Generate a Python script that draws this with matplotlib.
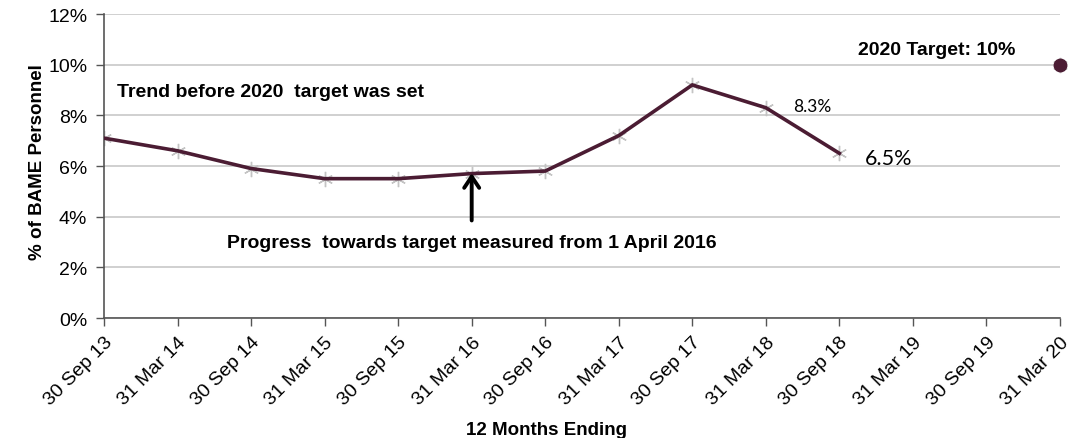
import matplotlib
matplotlib.use("Agg")
import matplotlib.pyplot as plt
import numpy as np

categories = ["30 Sep 13", "31 Mar 14", "30 Sep 14", "31 Mar 15", "30 Sep 15",
              "31 Mar 16", "30 Sep 16", "31 Mar 17", "30 Sep 17", "31 Mar 18",
              "30 Sep 18", "31 Mar 19", "30 Sep 19", "31 Mar 20"]
actual = [7.1, 6.6, 5.9, 5.5, 5.5, 5.7, 5.8, 7.2, 9.2, 8.3, 6.5]
target_value = 10.0
target_index = 13
yticks = [0, 2, 4, 6, 8, 10, 12]

plt.rcParams['font.family'] = ['Liberation Sans', 'DejaVu Sans']

fig = plt.figure(figsize=(10.72, 4.39), dpi=100)
ax = fig.add_axes([104/1072, 1 - 319/439, (1060-104)/1072, (319-15)/439])

line_col = "#4b1c33"
grid_col = "#c8c8c8"

x = np.arange(len(actual))
ax.plot(x, actual, color=line_col, lw=2.6, zorder=3, solid_joinstyle='miter')
ax.plot(x, actual, ls='none', marker=(6, 2, 0), ms=11, mec="#c4c4c4", mew=1.0, zorder=2)
ax.plot([target_index], [target_value], ls='none', marker=(6, 2, 0), ms=11, mec="#c4c4c4", mew=1.0, zorder=2, clip_on=False)
ax.plot([target_index], [target_value], ls='none', marker='o', ms=9, color=line_col, zorder=4, clip_on=False)

ax.set_xlim(0, len(categories) - 1)
ax.set_ylim(0, 12)
ax.set_yticks(yticks)
ax.set_yticklabels([f"{v}%" for v in yticks], fontsize=14)
ax.set_xticks(np.arange(len(categories)))
ax.set_xticklabels(categories, rotation=45, ha='right', rotation_mode='anchor', fontsize=14)

ax.yaxis.grid(True, color=grid_col, lw=1.2)
ax.set_axisbelow(True)
for s in ['top', 'right']:
    ax.spines[s].set_visible(False)
for s in ['left', 'bottom']:
    ax.spines[s].set_color("#555555")
    ax.spines[s].set_linewidth(1.2)
ax.tick_params(axis='both', direction='out', length=6, color="#555555", width=1.0)
ax.tick_params(axis='y', pad=6)
ax.tick_params(axis='x', pad=5)

fig.text(38/1072, 1 - 162/439, "% of BAME Personnel", fontsize=13.5, fontweight='bold',
         rotation=90, ha='center', va='center')
fig.text(546/1072, 1 - 431/439, "12 Months Ending", fontsize=13.5, fontweight='bold',
         ha='center', va='center')

ax.text(0.18, 8.95, "Trend before 2020  target was set", fontsize=14, fontweight='bold', va='center')
ax.text(10.25, 10.6, "2020 Target: 10%", fontsize=14, fontweight='bold', va='center')
ax.text(9.37, 8.38, "8.3%", fontsize=12.5, va='center', family=['Lato', 'DejaVu Sans'])
ax.text(10.35, 6.33, "6.5%", fontsize=15.5, va='center', family=['Lato', 'DejaVu Sans'])
ax.text(5.0, 3.0, "Progress  towards target measured from 1 April 2016", fontsize=14,
        fontweight='bold', ha='center', va='center')
ax.annotate("", xy=(5, 5.72), xytext=(5, 3.85),
            arrowprops=dict(arrowstyle='->,head_length=0.45,head_width=0.3', color='black',
                            lw=2.8, mutation_scale=18, shrinkA=0, shrinkB=0))

fig.savefig("out.png", dpi=100)
